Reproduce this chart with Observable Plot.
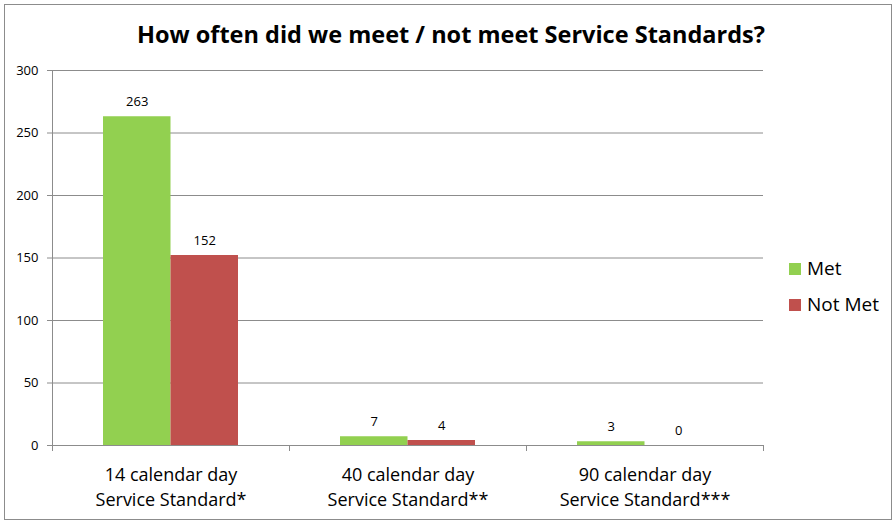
<!DOCTYPE html>
<html>
<head>
<meta charset="utf-8">
<script src="https://cdn.jsdelivr.net/npm/d3@7"></script>
<script src="https://cdn.jsdelivr.net/npm/@observablehq/plot@0.6"></script>
<style>
  html, body { margin: 0; padding: 0; background: #fff; }
  #wrap { position: relative; width: 896px; height: 523px; overflow: hidden; font-family: "Open Sans", sans-serif; }
  #border { position: absolute; left: 4px; top: 4px; width: 888px; height: 516px; border: 1px solid #8c8c8c; box-sizing: border-box; }
  #title { position: absolute; left: 0; width: 902px; top: 19px; text-align: center; font-weight: bold; font-size: 23.5px; line-height: 30px; color: #000; white-space: nowrap; }
  #chart { position: absolute; left: 0; top: 0; }
  .leg { position: absolute; left: 789px; font-size: 19px; color: #000; line-height: 24px; height: 24px; }
  .leg span.sw { position: absolute; left: 0; top: 6px; width: 12px; height: 12px; }
  .leg span.lb { position: absolute; left: 18px; top: -1px; white-space: nowrap; }
</style>
</head>
<body>
<div id="wrap">
  <div id="border"></div>
  <div id="chart"></div>
  <div id="title">How often did we meet / not meet Service Standards?</div>
  <div id="legend"></div>
</div>
<script>
const categories = [
  "14 calendar day\nService Standard*",
  "40 calendar day\nService Standard**",
  "90 calendar day\nService Standard***"
];
const metValues = [263, 7, 3];
const notMetValues = [152, 4, 0];
const seriesNames = ["Met", "Not Met"];
const seriesColors = ["#92D050", "#C0504D"];
const yTicks = [0, 50, 100, 150, 200, 250, 300];

const rows = categories.map((c, i) => ({category: c, met: metValues[i], notMet: notMetValues[i]}));

const W = 896, H = 523;
const mL = 52, mR = 133, mT = 70, mB = 78;
const bw = (W - mL - mR) / categories.length;
const outer = 51, barW = (bw - 2 * outer) / 2;
const grid = "#8c8c8c";

const chart = Plot.plot({
  width: W, height: H,
  marginLeft: mL, marginRight: mR, marginTop: mT, marginBottom: mB,
  style: {fontFamily: "'Open Sans', sans-serif", background: "transparent", color: "#000", overflow: "visible"},
  x: {domain: categories, padding: 0, label: null, axis: null},
  y: {domain: [0, 300], label: null, axis: null},
  marks: [
    Plot.gridY(yTicks, {stroke: grid, strokeOpacity: 1}),
    Plot.axisY({ticks: yTicks, tickSize: 5, tickPadding: 9, stroke: grid, fontSize: 13, label: null, fill: "#000"}),
    Plot.frame({anchor: "left", stroke: grid}),
    Plot.barY(rows, {x: "category", y: "met", fill: seriesColors[0], insetLeft: outer, insetRight: outer + barW}),
    Plot.barY(rows, {x: "category", y: "notMet", fill: seriesColors[1], insetLeft: outer + barW, insetRight: outer}),
    Plot.text(rows, {x: "category", y: "met", text: d => String(d.met), dx: -barW / 2, dy: -11, lineAnchor: "bottom", fontSize: 13, fill: "#000"}),
    Plot.text(rows, {x: "category", y: "notMet", text: d => String(d.notMet), dx: barW / 2, dy: -11, lineAnchor: "bottom", fontSize: 13, fill: "#000"}),
    Plot.ruleX(categories, {x: d => d, y1: 0, y2: 0, dx: -bw / 2, insetBottom: -6, stroke: grid}),
    Plot.ruleX([categories[categories.length - 1]], {x: d => d, y1: 0, y2: 0, dx: bw / 2, insetBottom: -6, stroke: grid}),
    Plot.axisX({tickSize: 0, tickPadding: 18, fontSize: 18, lineHeight: 1.38, label: null, fill: "#000"})
  ]
});
document.getElementById("chart").appendChild(chart);

const legend = document.getElementById("legend");
const legendTops = [257, 293];
seriesNames.forEach((name, i) => {
  const d = document.createElement("div");
  d.className = "leg";
  d.style.top = legendTops[i] + "px";
  d.innerHTML = `<span class="sw" style="background:${seriesColors[i]}"></span><span class="lb">${name}</span>`;
  legend.appendChild(d);
});
</script>
</body>
</html>
